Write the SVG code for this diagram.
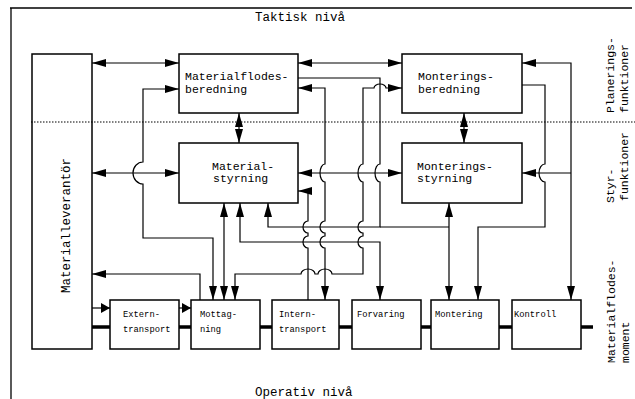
<svg xmlns="http://www.w3.org/2000/svg" width="635" height="399" viewBox="0 0 635 399">
<style>
.box{fill:none;stroke:#000;stroke-width:1.5}
.t{font-family:"Liberation Mono","DejaVu Sans Mono",monospace;font-size:11.5px;fill:#000}
.b{font-size:12.5px}
.s{font-size:8.8px}
.c{fill:none;stroke:#000;stroke-width:1.2}
.ab{marker-start:url(#a);marker-end:url(#a)}
.ae{marker-end:url(#a)}
.flow{fill:none;stroke:#000;stroke-width:3.5}
</style>
<defs>
<marker id="a" viewBox="0 0 14 8" refX="14" refY="4" markerWidth="14" markerHeight="8" markerUnits="userSpaceOnUse" orient="auto-start-reverse"><path d="M0,0 L14,4 L0,8 z" fill="#000"/></marker>
<marker id="s" viewBox="0 0 9 10" refX="9" refY="5" markerWidth="9" markerHeight="10" markerUnits="userSpaceOnUse" orient="auto"><path d="M0,0 L9,5 L0,10 z" fill="#000"/></marker>
</defs>
<rect width="635" height="399" fill="#fff"/>

<g id="frame" fill="none" stroke="#000">
<path d="M10,8 H632" stroke-width="1.6"/>
<path d="M11,8 V399" stroke-width="1.3"/>
<path d="M31,122 H635" stroke-width="1.2" stroke-dasharray="1.5,1.5"/>
</g>

<g id="levels">
<text class="t b" x="255" y="21">Taktisk nivå</text>
<text class="t b" x="255" y="396">Operativ nivå</text>
<text class="t" transform="translate(614,113) rotate(-90)">Planerings-</text>
<text class="t" transform="translate(628,113) rotate(-90)">funktioner</text>
<text class="t" transform="translate(614,203) rotate(-90)">Styr-</text>
<text class="t" transform="translate(628,201) rotate(-90)">funktioner</text>
<text class="t" transform="translate(615,363) rotate(-90)">Materialflodes-</text>
<text class="t" transform="translate(629,363) rotate(-90)">moment</text>
</g>

<g id="leverantor">
<rect class="box" x="32" y="54" width="60" height="295"/>
<text class="t b" transform="translate(70,293) rotate(-90)">Materialleverantör</text>
</g>
<g id="mf-beredning">
<rect class="box" x="179" y="54" width="119" height="59"/>
<text class="t" x="185" y="80">Materialflodes-</text>
<text class="t" x="185" y="93">beredning</text>
</g>
<g id="mf-styrning">
<rect class="box" x="179" y="143" width="119" height="60"/>
<text class="t" x="212" y="170">Material-</text>
<text class="t" x="213" y="182">styrning</text>
</g>
<g id="mont-beredning">
<rect class="box" x="402" y="54" width="120" height="59"/>
<text class="t" x="418" y="80">Monterings-</text>
<text class="t" x="418" y="93">beredning</text>
</g>
<g id="mont-styrning">
<rect class="box" x="402" y="143" width="120" height="60"/>
<text class="t" x="417" y="170">Monterings-</text>
<text class="t" x="417" y="182">styrning</text>
</g>
<g id="externtransport">
<rect class="box" x="110" y="300" width="69" height="49"/>
<text class="t s" x="123" y="317">Extern-</text>
<text class="t s" x="123" y="332">transport</text>
</g>
<g id="mottagning">
<rect class="box" x="191" y="300" width="69" height="49"/>
<text class="t s" x="200" y="317">Mottag-</text>
<text class="t s" x="200" y="332">ning</text>
</g>
<g id="interntransport">
<rect class="box" x="272" y="300" width="67" height="49"/>
<text class="t s" x="279" y="317">Intern-</text>
<text class="t s" x="279" y="332">transport</text>
</g>
<g id="forvaring">
<rect class="box" x="352" y="300" width="69" height="49"/>
<text class="t s" x="357" y="317">Forvaring</text>
</g>
<g id="montering">
<rect class="box" x="431" y="300" width="68" height="49"/>
<text class="t s" x="435" y="317">Montering</text>
</g>
<g id="kontroll">
<rect class="box" x="512" y="300" width="69" height="49"/>
<text class="t s" x="514" y="317">Kontroll</text>
</g>

<g id="connectors">
<path class="c ab" d="M92,63 H179"/>
<path class="c ab" d="M298,63 H402"/>
<path class="c ab" d="M239,113 V143"/>
<path class="c ab" d="M464,113 V143"/>
<path class="c ab" d="M92,173 H179"/>
<path class="c ab" d="M298,173 H402"/>
<path class="c ab" d="M179,89 H143 V162 A10,11 0 0 0 143,184 V238 H213 V300"/>
<path class="c ae" d="M200,300 V274 H92"/>
<path class="c ab" d="M224,203 V300"/>
<path class="c ae" d="M298,78 H380 V164 A5,9 0 0 0 380,182 V227 H268 V203"/>
<path class="c" d="M380,227 H449"/>
<path class="c ab" d="M240,203 V242 H380 V300"/>
<path class="c ab" d="M235,300 V274 H301 A7,5 0 0 1 315,274 H318 A7,5 0 0 1 332,274 H363 V248 A5,6 0 0 1 363,236 V233 A5,6 0 0 1 363,221 V182 A5,9 0 0 1 363,164 V88 H374 A6,4 0 0 1 386,88 H402"/>
<path class="c ab" d="M298,88 H325 V164 A5,9 0 0 0 325,182 V221 A5,6 0 0 0 325,233 V236 A5,6 0 0 0 325,248 V300"/>
<path class="c ae" d="M308,300 V248 A5,6 0 0 1 308,236 V233 A5,6 0 0 1 308,221 V191 H298"/>
<path class="c ab" d="M449,203 V300"/>
<path class="c ae" d="M522,85 H545 V164 A6,9 0 0 0 545,182 V227 H478 V300"/>
<path class="c ab" d="M571,300 V63 H522"/>
<path class="c ae" d="M571,173 H522" stroke-width="2"/>
<path class="c" d="M92,308 H110" marker-end="url(#s)"/>
<path class="c" d="M179,308 H191" marker-end="url(#s)"/>
<path class="flow" d="M92,327 H110 M179,327 H191 M260,327 H272 M339,327 H352 M421,327 H431 M499,327 H512 M581,327 H593"/>
</g>
</svg>
